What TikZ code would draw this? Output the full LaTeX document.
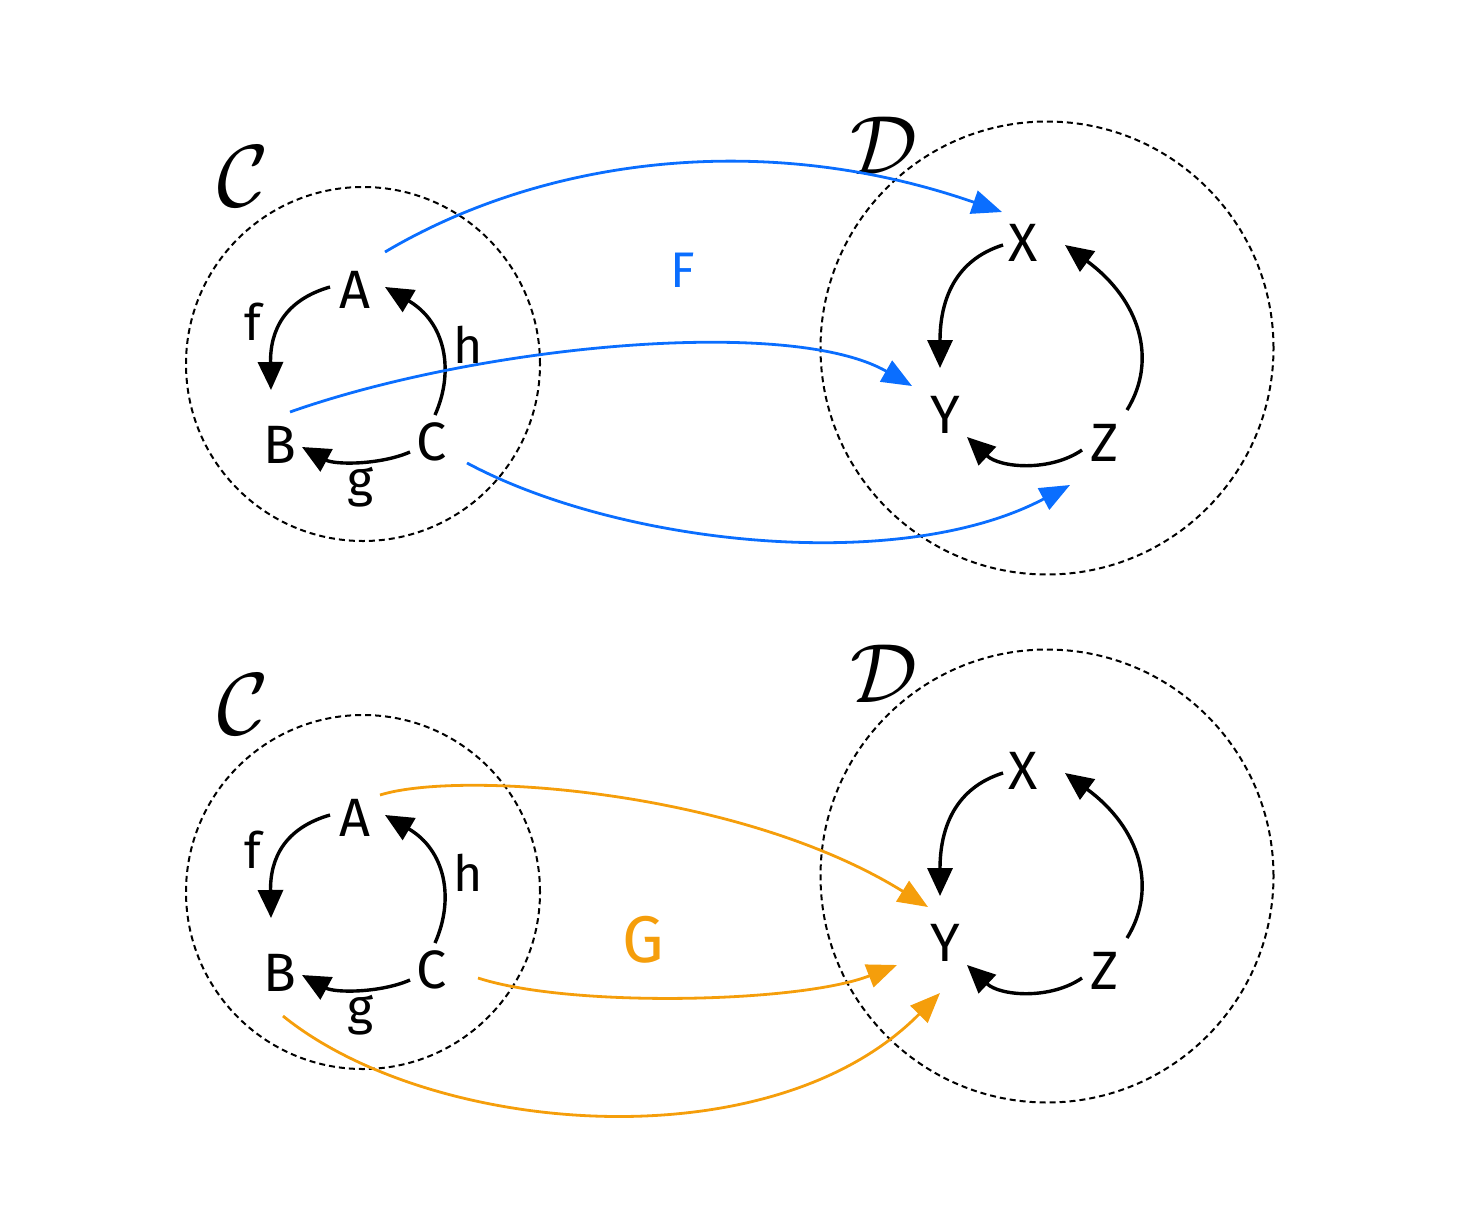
\documentclass[tikz,border=0pt]{standalone}
\usepackage{fontspec}
\setmainfont{Fira Sans}
\usetikzlibrary{arrows.meta,calc}
\definecolor{fblue}{RGB}{10,110,255}
\definecolor{gorange}{RGB}{245,158,11}
\tikzset{
  obj/.style={inner sep=0pt,font=\fontsize{27}{30}\selectfont},
  mlab/.style={inner sep=0pt,font=\fontsize{25}{28}\selectfont},
  catlab/.style={inner sep=0pt},
  catcircle/.style={draw,circle,inner sep=0pt,line width=1pt,dash pattern=on 3pt off 2pt},
  morph/.style={line width=1.7pt,-{Triangle[length=14pt,width=12.5pt]}},
  fmap/.style={line width=1.4pt,color=fblue,-{Triangle[length=15pt,width=12pt]}},
  gmap/.style={line width=1.4pt,color=gorange,-{Triangle[length=15pt,width=12pt]}}
}
\newcommand\catpanel[1]{%
  \node[catcircle,minimum size=177pt] (#1cC) at (363,364) {};
  \node[catcircle,minimum size=226.5pt] (#1cD) at (1047,348) {};
  \node[catlab] (#1lC) at (243,176) {\scalebox{4.4}{$\mathcal{C}$}};
  \node[catlab] (#1lD) at (884,146) {\scalebox{4.2}{$\mathcal{D}$}};
  \node[obj] (#1A) at (355,290) {A};
  \node[obj] (#1B) at (280,445) {B};
  \node[obj] (#1C) at (432,442) {C};
  \node[obj] (#1X) at (1023,243) {X};
  \node[obj] (#1Y) at (945,415) {Y};
  \node[obj] (#1Z) at (1105,443) {Z};
  \draw[morph] ($(#1A)+(-25,-3)$) .. controls (285,300) and (270,330) .. ($(#1B)+(-9,-55)$);
  \draw[morph] ($(#1C)+(-22,10)$) .. controls (380,465) and (335,465) .. ($(#1B)+(22,2)$);
  \draw[morph] ($(#1C)+(3,-27)$) .. controls (455,370) and (445,322) .. ($(#1A)+(30,-3)$);
  \draw[morph] ($(#1X)+(-20,2)$) .. controls (955,260) and (940,300) .. ($(#1Y)+(-5,-47)$);
  \draw[morph] ($(#1Z)+(22,-33)$) .. controls (1158,360) and (1140,300) .. ($(#1X)+(42,2)$);
  \draw[morph] ($(#1Z)+(-23,7)$) .. controls (1050,472) and (1000,468) .. ($(#1Y)+(22,22)$);
  \node[mlab] (#1f) at (253,322) {f};
  \node[mlab] (#1g) at (360,487) {g};
  \node[mlab] (#1h) at (468,345) {h};
}
\begin{document}
\begin{tikzpicture}[x=0.5pt,y=-0.5pt]
\useasboundingbox (0,0) rectangle (1465,1231);
\begin{scope}
  \catpanel{t}
\end{scope}
\begin{scope}[shift={(0,528)}]
  \catpanel{b}
\end{scope}
% functor F
\draw[fmap] ($(tA)+(30,-38)$) .. controls (540,160) and (760,128) .. ($(tX)+(-21,-31)$);
\draw[fmap] ($(tB)+(10,-33)$) .. controls (480,345) and (790,316) .. ($(tY)+(-33,-29)$);
\draw[fmap] ($(tC)+(35,21)$) .. controls (620,545) and (900,575) .. ($(tZ)+(-35,42)$);
\node[mlab,text=fblue] (F) at (683,270) {F};
% functor G
\draw[gmap] ($(bA)+(25,-23)$) .. controls (460,770) and (740,790) .. ($(bY)+(-17,-36)$);
\draw[gmap] ($(bC)+(46,8)$) .. controls (570,1008) and (800,1003) .. ($(bY)+(-48,22)$);
\draw[gmap] ($(bB)+(3,43)$) .. controls (430,1135) and (770,1165) .. ($(bY)+(-5,50)$);
\node[inner sep=0pt,text=gorange,font=\fontsize{33}{36}\selectfont] (G) at (643,940) {G};
\end{tikzpicture}
\end{document}
